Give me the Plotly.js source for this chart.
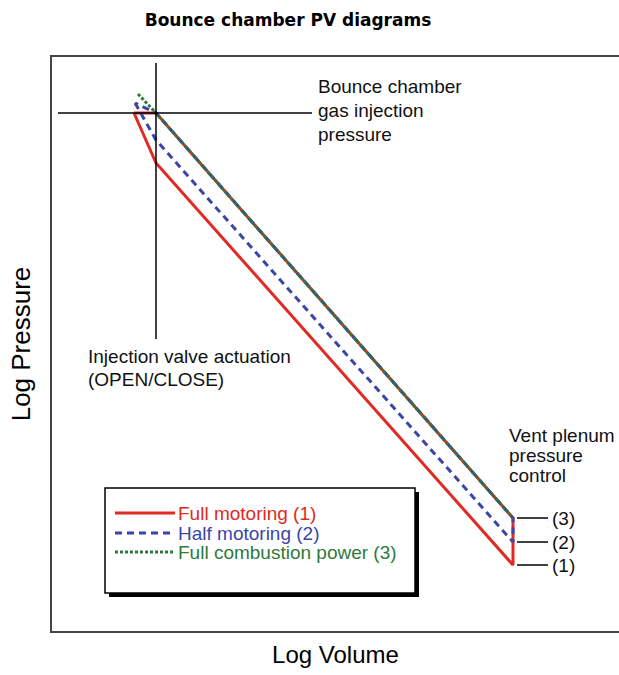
<!DOCTYPE html>
<html>
<head>
<meta charset="utf-8">
<script src="https://cdn.plot.ly/plotly-3.0.1.min.js"></script>
<style>html,body{margin:0;padding:0;background:#fff;}#chart{width:619px;height:675px;}</style>
</head>
<body>
<div id="chart"></div>
<script>
// Arbitrary log-volume / log-pressure units
var seriesNames = ["Full motoring (1)", "Half motoring (2)", "Full combustion power (3)"];
var seriesLabels = ["(1)", "(2)", "(3)"];
var seriesColors = ["#e02a22", "#3a45aa", "#2e7a3a"];

var fullMotoringV = [82, 104, 461, 461, 104, 82];
var fullMotoringP = [518, 468, 66, 113, 518, 518];

var halfMotoringV = [83, 104, 461, 461, 104, 83];
var halfMotoringP = [528, 491, 89, 113, 518, 528];

var fullCombustionV = [86, 104, 461];
var fullCombustionP = [537, 518, 113];

var injectionPressure = 518;   // bounce chamber gas injection pressure
var injectionVolume = 104;     // injection valve actuation volume
var ventVolume = 461;
var ventPressures = [66, 89, 113];

// plot frame in pixels
var L = 52, T = 57, B = 631, R = 619;
function X(px) { return px - L; }
function Y(py) { return B - py; }

var lineStyles = [
  {color: seriesColors[0], width: 3, dash: "solid"},
  {color: seriesColors[1], width: 3, dash: "7px,5px"},
  {color: seriesColors[2], width: 3, dash: "3px,2px"}
];

var traces = [
  {x: fullMotoringV, y: fullMotoringP, name: seriesNames[0]},
  {x: halfMotoringV, y: halfMotoringP, name: seriesNames[1]},
  {x: fullCombustionV, y: fullCombustionP, name: seriesNames[2]}
].map(function (t, i) {
  t.type = "scatter"; t.mode = "lines"; t.line = lineStyles[i]; t.hoverinfo = "skip";
  return t;
});

var shapes = [];
var ann = [];
var txtFont = {family: "Liberation Sans, Arial, sans-serif", size: 19, color: "#111"};

// crosshair
shapes.push({type: "line", xref: "x", yref: "y", x0: X(58), x1: X(312), y0: injectionPressure, y1: injectionPressure, line: {color: "#000", width: 1.5}});
shapes.push({type: "line", xref: "x", yref: "y", x0: injectionVolume, x1: injectionVolume, y0: Y(63), y1: Y(339), line: {color: "#000", width: 1.5}});

// leader lines at vent
ventPressures.forEach(function (p, i) {
  shapes.push({type: "line", xref: "x", yref: "y", x0: ventVolume + 4, x1: ventVolume + 35, y0: p, y1: p, line: {color: "#000", width: 1.5}});
  ann.push({xref: "x", yref: "y", x: ventVolume + 37, y: p, text: seriesLabels[i], showarrow: false, xanchor: "left", yanchor: "middle", font: txtFont});
});

// text annotations
function addLines(lines, px, pys) {
  lines.forEach(function (s, i) {
    ann.push({xref: "x", yref: "y", x: X(px), y: Y(pys[i]), text: s, showarrow: false, xanchor: "left", yanchor: "middle", font: txtFont});
  });
}
addLines(["Bounce chamber", "gas injection", "pressure"], 316, [86, 110, 134]);
addLines(["Injection valve actuation", "(OPEN/CLOSE)"], 86, [356, 379]);
addLines(["Vent plenum", "pressure", "control"], 507, [435, 455, 475]);

// legend box with shadow
shapes.push({type: "rect", xref: "x", yref: "y", x0: X(109), x1: X(419), y0: Y(492), y1: Y(597), fillcolor: "#000", line: {width: 0}});
shapes.push({type: "rect", xref: "x", yref: "y", x0: X(105), x1: X(415), y0: Y(488), y1: Y(593), fillcolor: "#fff", line: {color: "#000", width: 1.5}});
var rowY = [513, 533, 552];
seriesNames.forEach(function (n, i) {
  shapes.push({type: "line", xref: "x", yref: "y", x0: X(115), x1: X(175), y0: Y(rowY[i]), y1: Y(rowY[i]), line: {color: lineStyles[i].color, width: 3, dash: lineStyles[i].dash}});
  ann.push({xref: "x", yref: "y", x: X(176), y: Y(rowY[i]), text: n, showarrow: false, xanchor: "left", yanchor: "middle", font: {family: txtFont.family, size: 19, color: seriesColors[i]}});
});

var layout = {
  width: 619, height: 675,
  margin: {l: L, r: 0, t: T, b: 675 - B, pad: 0},
  paper_bgcolor: "#fff", plot_bgcolor: "#fff",
  showlegend: false,
  title: {text: "Bounce chamber PV diagrams", x: 288 / 619, xanchor: "center", y: 1 - 20 / 675, yanchor: "middle",
    font: {family: "DejaVu Sans, sans-serif", size: 17, color: "#000", weight: "bold"}},
  xaxis: {range: [0, R - L], showgrid: false, zeroline: false, showticklabels: false, ticks: "",
    showline: true, mirror: true, linecolor: "#444", linewidth: 2, fixedrange: true,
    title: {text: "Log Volume", standoff: 14, font: {family: "Liberation Sans, Arial, sans-serif", size: 24, color: "#000"}}},
  yaxis: {range: [0, B - T], showgrid: false, zeroline: false, showticklabels: false, ticks: "",
    showline: true, mirror: false, linecolor: "#444", linewidth: 2, fixedrange: true,
    title: {text: "Log Pressure", standoff: 12, font: {family: "Liberation Sans, Arial, sans-serif", size: 26, color: "#000"}}},
  shapes: shapes,
  annotations: ann
};

Plotly.newPlot("chart", traces, layout, {displayModeBar: false, staticPlot: true});
</script>
</body>
</html>
